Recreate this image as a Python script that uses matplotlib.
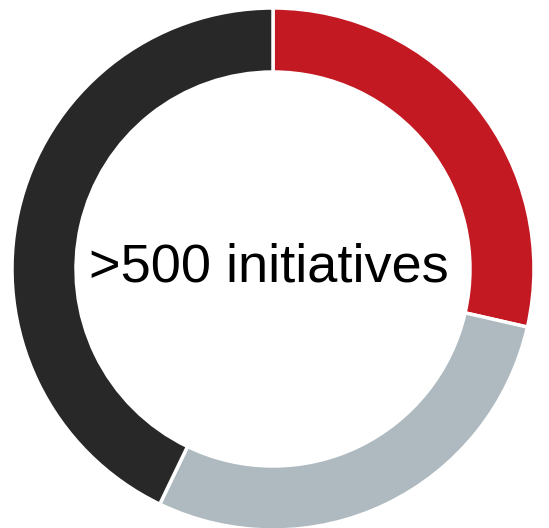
import matplotlib
matplotlib.use('Agg')
import matplotlib.pyplot as plt

# share of initiatives per group (clockwise from 12 o'clock)
groups = ['Group A', 'Group B', 'Group C']
shares = [2, 2, 3]
colors = ['#C31923', '#AEBAC0', '#282828']
center_label = '>500 initiatives'

fig = plt.figure(figsize=(5.49, 5.28), dpi=100)
ax = fig.add_axes([0, 0, 1, 1])

ax.pie(shares, colors=colors, startangle=90, counterclock=False,
       center=(273, 259), radius=261, frame=True,
       wedgeprops=dict(width=64, edgecolor='white', linewidth=2.5))
ax.set_xlim(0, 549)
ax.set_ylim(0, 528)
ax.axis('off')

ax.text(269, 246, center_label, ha='center', va='baseline',
        fontsize=39, family='Liberation Sans', color='black')

fig.savefig('out.png', dpi=100)
